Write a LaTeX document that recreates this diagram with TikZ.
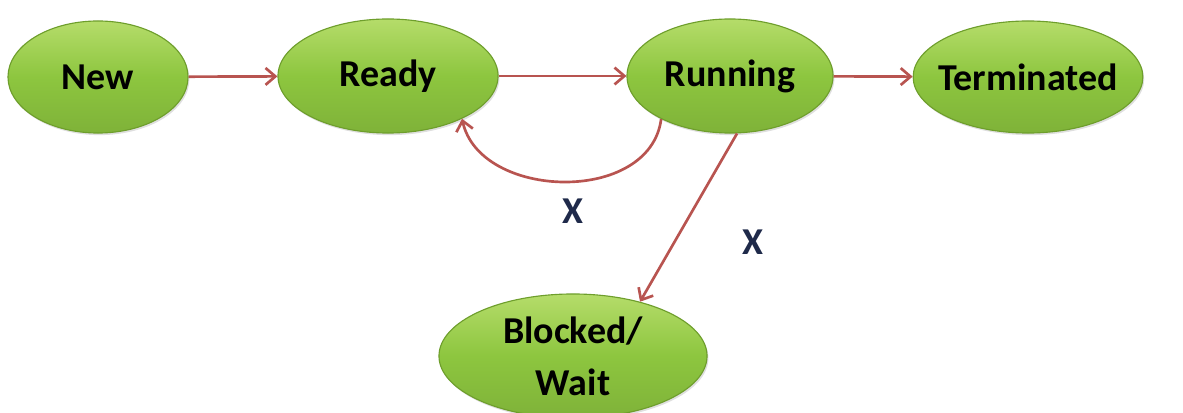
\documentclass[tikz,border=0pt]{standalone}
\usepackage{fontspec}
\setmainfont{Carlito}
\usetikzlibrary{shapes.geometric,arrows.meta,shadows}
\definecolor{gfill}{HTML}{8DC63F}
\definecolor{glight}{HTML}{B5DC6A}
\definecolor{gline}{HTML}{6E9E2C}
\definecolor{arr}{HTML}{B85450}
\definecolor{xnavy}{HTML}{1F2A4A}
\tikzset{
  state/.style={ellipse, draw=gline, line width=0.8pt, top color=glight, bottom color=gfill!90!black,
    middle color=gfill, font=\bfseries\fontsize{27}{29}\selectfont, align=center, inner xsep=-6pt, inner ysep=0pt,
    drop shadow={opacity=0.25, shadow xshift=1pt, shadow yshift=-1.5pt}},
  conn/.style={draw=arr, line width=1.9pt, -{Straight Barb[length=7pt,width=12pt]}},
  xlab/.style={font=\bfseries\fontsize{27}{29}\selectfont, text=xnavy}
}
\begin{document}
\begin{tikzpicture}[x=0.025cm, y=-0.025cm]
\useasboundingbox (0,0) rectangle (1183,413);
\node[state, minimum width=4.5cm, minimum height=2.8cm] (new) at (98,77) {New};
\node[state, minimum width=5.5cm, minimum height=2.85cm] (ready) at (388,76) {Ready};
\node[state, minimum width=5.15cm, minimum height=2.85cm] (running) at (730,76) {Running};
\node[state, minimum width=5.7cm, minimum height=2.8cm] (term) at (1028,77) {Terminated};
\node[state, minimum width=6.7cm, minimum height=3.1cm, font=\bfseries\fontsize{27}{37}\selectfont] (blocked) at (573,356) {Blocked/\\Wait};
\draw[conn] (new) -- (ready);
\draw[conn] (ready) -- (running);
\draw[conn] (running) -- (term);
\draw[conn] (running.-148) .. controls (650,205) and (480,200) .. (ready.-30);
\draw[conn] (running.-83) -- (blocked.39);
\node[xlab] (x1) at (573,211) {X};
\node[xlab] (x2) at (753,242) {X};
\end{tikzpicture}
\end{document}
